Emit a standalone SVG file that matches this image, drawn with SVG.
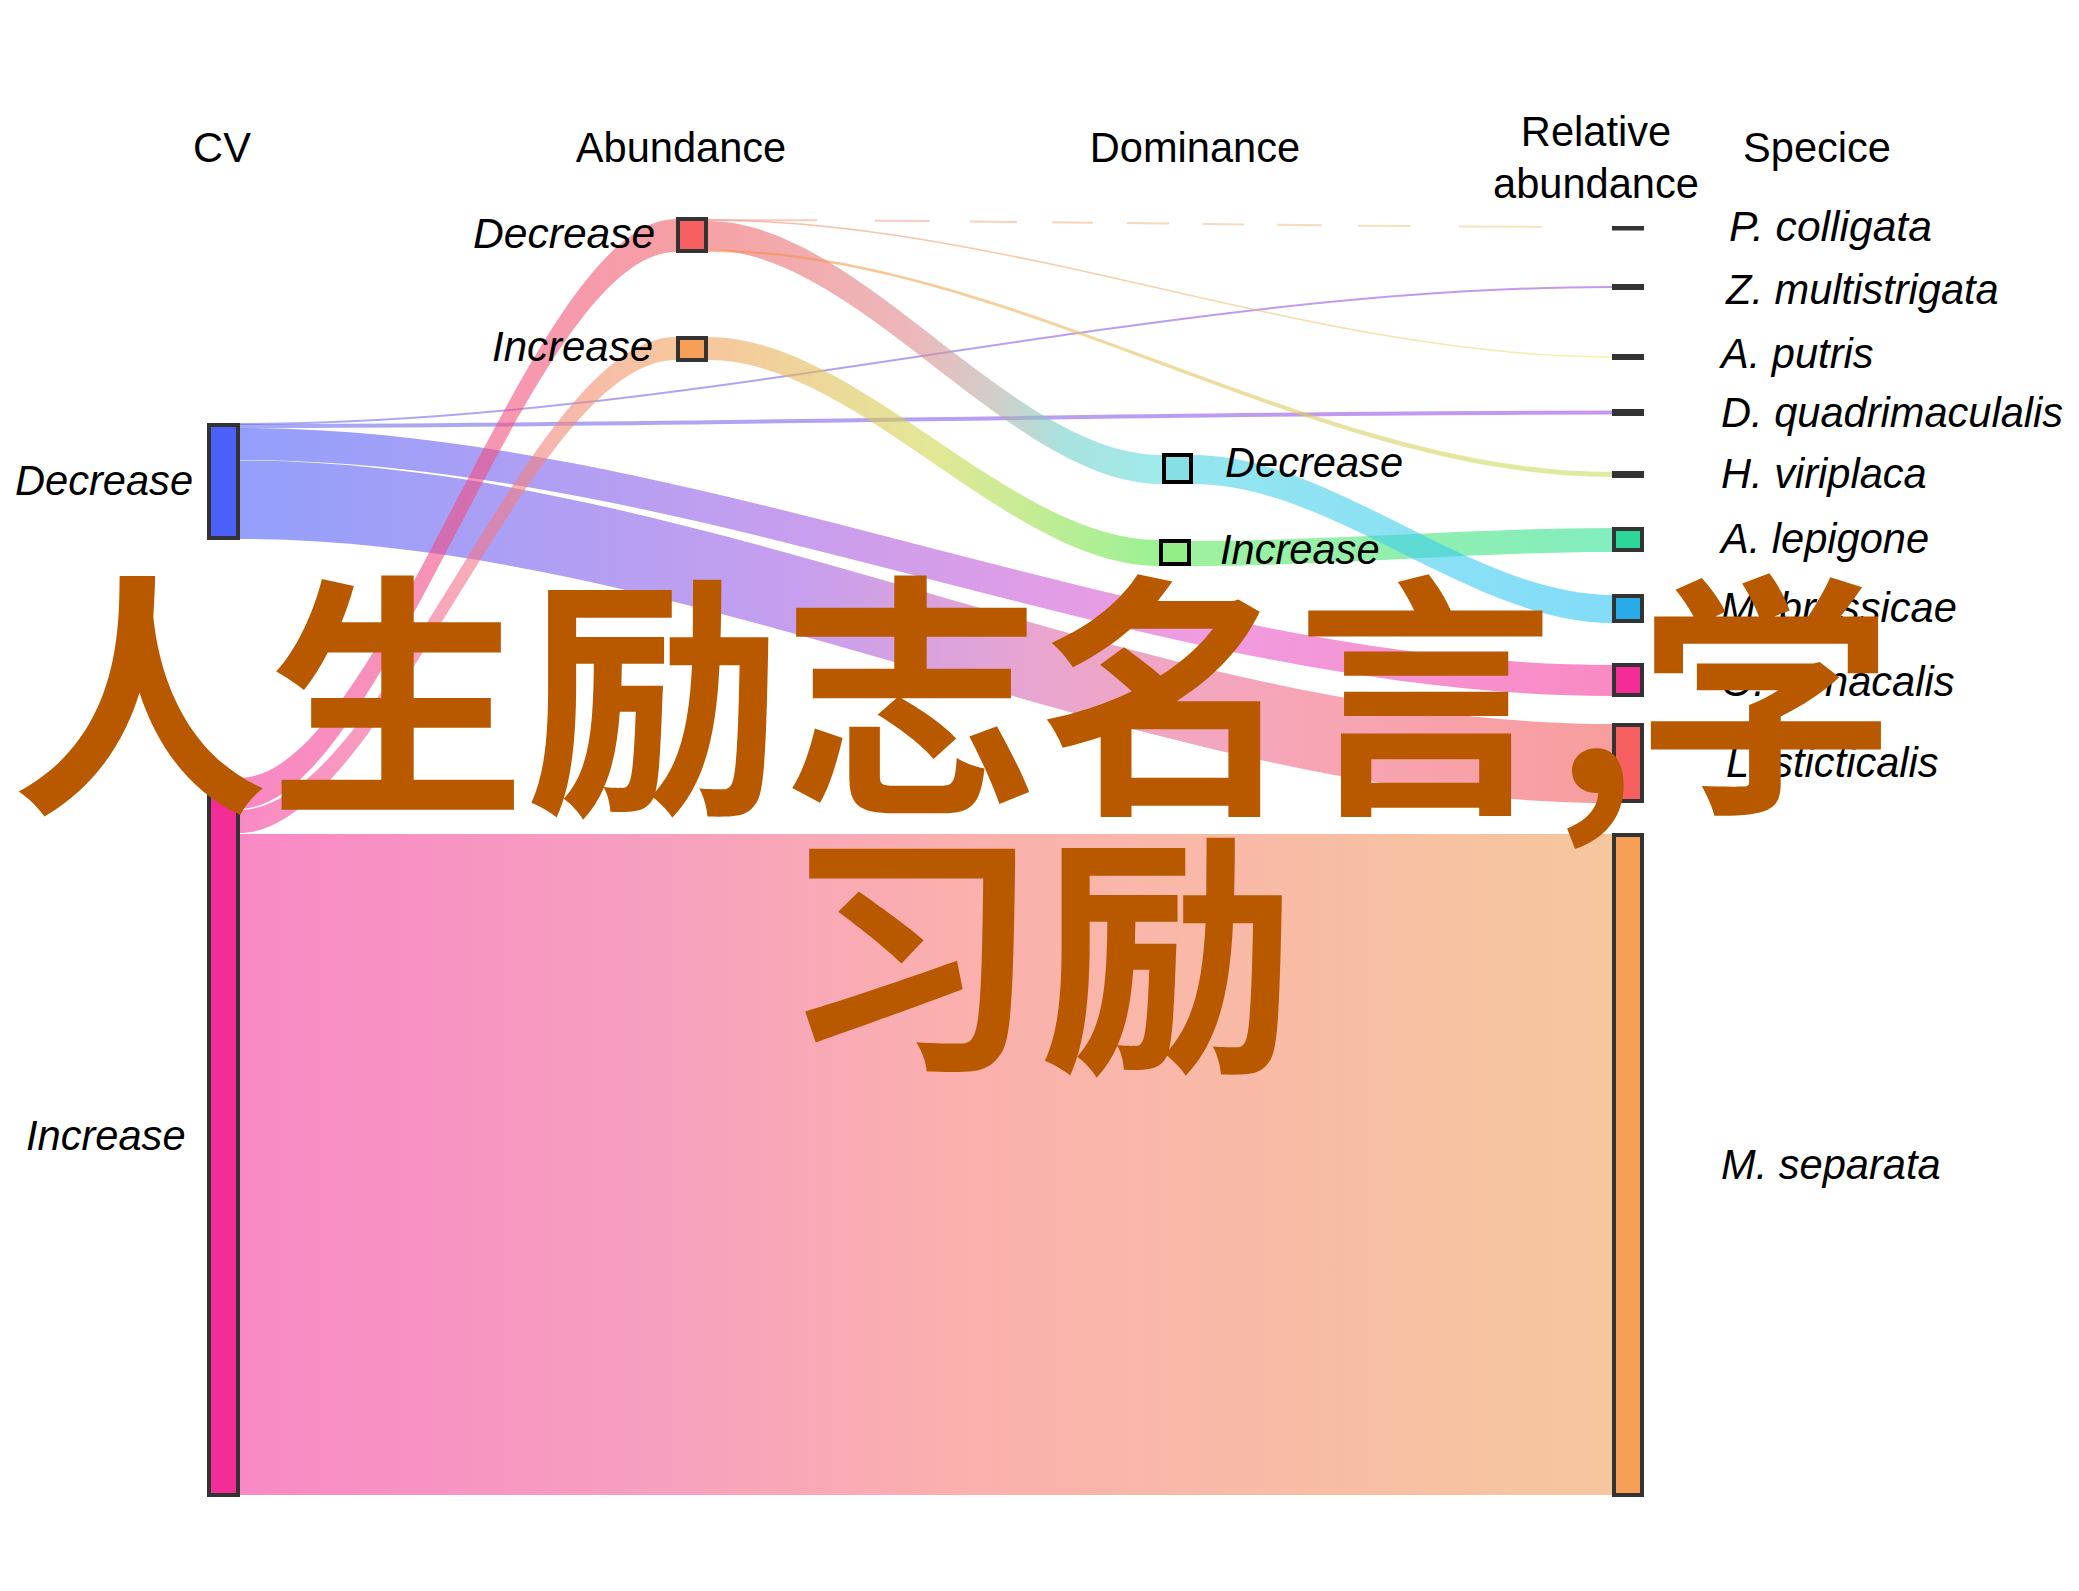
<svg xmlns="http://www.w3.org/2000/svg" width="2079" height="1591" viewBox="0 0 2079 1591">
<style>
text{font-family:"Liberation Sans",Arial,sans-serif;font-size:41.6px;fill:#000}
.i{font-style:italic}
.m{text-anchor:middle}
.f{fill-opacity:.6;stroke:none}
.l{fill:none;stroke-opacity:.6}
.n{stroke:#333;stroke-width:4}
.k{stroke:#000;stroke-width:4}
.w{font-family:"Noto Sans CJK SC","Noto Sans CJK JP",sans-serif;font-size:257px;font-weight:700;fill:#B85900}
</style>
<defs>
<linearGradient id="gA" gradientUnits="userSpaceOnUse" x1="239" y1="0" x2="1612" y2="0"><stop offset="0" stop-color="#4A60F8"/><stop offset=".41" stop-color="#A25EE2"/><stop offset=".7" stop-color="#E65ACC"/><stop offset="1" stop-color="#F63C9A"/></linearGradient>
<linearGradient id="gB" gradientUnits="userSpaceOnUse" x1="239" y1="0" x2="1612" y2="0"><stop offset="0" stop-color="#4A60F8"/><stop offset=".41" stop-color="#A25EE2"/><stop offset=".59" stop-color="#DC6AAE"/><stop offset=".77" stop-color="#F26A86"/><stop offset="1" stop-color="#F25C5C"/></linearGradient>
<linearGradient id="gS" gradientUnits="userSpaceOnUse" x1="239" y1="0" x2="1612" y2="0"><stop offset="0" stop-color="#F43A9E"/><stop offset=".31" stop-color="#F16194"/><stop offset=".52" stop-color="#F87B78"/><stop offset="1" stop-color="#EFA25C"/></linearGradient>
<linearGradient id="g1" gradientUnits="userSpaceOnUse" x1="239" y1="0" x2="676" y2="0"><stop offset="0" stop-color="#F43A9E"/><stop offset="1" stop-color="#F06068"/></linearGradient>
<linearGradient id="g2" gradientUnits="userSpaceOnUse" x1="239" y1="0" x2="676" y2="0"><stop offset="0" stop-color="#F43A9E"/><stop offset=".5" stop-color="#F4708C"/><stop offset="1" stop-color="#F0A25C"/></linearGradient>
<linearGradient id="g3" gradientUnits="userSpaceOnUse" x1="708" y1="0" x2="1162" y2="0"><stop offset="0" stop-color="#F06468"/><stop offset=".45" stop-color="#E0888C"/><stop offset=".64" stop-color="#B0B0A8"/><stop offset=".78" stop-color="#70CFC8"/><stop offset="1" stop-color="#60DDE0"/></linearGradient>
<linearGradient id="g4" gradientUnits="userSpaceOnUse" x1="708" y1="0" x2="1159" y2="0"><stop offset="0" stop-color="#F0A25C"/><stop offset=".5" stop-color="#D0D850"/><stop offset="1" stop-color="#58E84C"/></linearGradient>
<linearGradient id="g5" gradientUnits="userSpaceOnUse" x1="1191" y1="0" x2="1612" y2="0"><stop offset="0" stop-color="#5EE85E"/><stop offset="1" stop-color="#2FE193"/></linearGradient>
<linearGradient id="g6" gradientUnits="userSpaceOnUse" x1="1193" y1="0" x2="1612" y2="0"><stop offset="0" stop-color="#4CD4E4"/><stop offset="1" stop-color="#30C4F4"/></linearGradient>
<linearGradient id="g7" gradientUnits="userSpaceOnUse" x1="239" y1="0" x2="1612" y2="0"><stop offset="0" stop-color="#6C70F0"/><stop offset="1" stop-color="#A050E0"/></linearGradient>
<linearGradient id="g8" gradientUnits="userSpaceOnUse" x1="708" y1="0" x2="1612" y2="0"><stop offset="0" stop-color="#F48A50"/><stop offset=".45" stop-color="#E8C060"/><stop offset="1" stop-color="#C8E060"/></linearGradient>
<linearGradient id="g9" gradientUnits="userSpaceOnUse" x1="708" y1="0" x2="1612" y2="0"><stop offset="0" stop-color="#F08A70"/><stop offset=".45" stop-color="#F0B070"/><stop offset="1" stop-color="#F0E870"/></linearGradient>
<linearGradient id="g10" gradientUnits="userSpaceOnUse" x1="708" y1="0" x2="1612" y2="0"><stop offset="0" stop-color="#F5A090"/><stop offset="1" stop-color="#F0D890"/></linearGradient>
</defs>
<rect width="2079" height="1591" fill="#fff"/>
<g id="connectors">
<rect class="f" fill="url(#gS)" x="239" y="834" width="1373" height="661"/>
<path class="f" fill="url(#gA)" d="M239 428C696.7 428 1154.3 665 1612 665L1612 696C1154.3 696 696.7 460 239 460Z"/>
<path class="f" fill="url(#gB)" d="M239 460.5C696.7 460.5 1154.3 724 1612 724L1612 803C1154.3 803 696.7 539 239 539Z"/>
<path class="l" stroke="url(#g7)" stroke-width="2" d="M239 424C696.7 424 1154.3 287 1612 287"/>
<path class="l" stroke="url(#g7)" stroke-width="4" d="M239 426C696.7 426 1154.3 412.5 1612 412.5"/>
<path class="f" fill="url(#g1)" d="M239 778C384.7 778 530.3 219 676 219L676 252C530.3 252 384.7 809 239 809Z"/>
<path class="f" fill="url(#g2)" d="M239 810C384.7 810 530.3 337 676 337L676 360C530.3 360 384.7 833 239 833Z"/>
<path class="f" fill="url(#g3)" d="M708 221C859.3 221 1010.7 455 1162 455L1162 484C1010.7 484 859.3 250 708 250Z"/>
<path class="f" fill="url(#g4)" d="M708 337C858.3 337 1008.7 540 1159 540L1159 566C1008.7 566 858.3 360 708 360Z"/>
<path class="f" fill="url(#g5)" d="M1191 541C1331.3 541 1471.7 528 1612 528L1612 552C1471.7 552 1331.3 566 1191 566Z"/>
<path class="f" fill="url(#g6)" d="M1193 455C1332.7 455 1472.3 595 1612 595L1612 623C1472.3 623 1332.7 484 1193 484Z"/>
<path class="f" fill="url(#g8)" d="M708 249.5C1009.3 249.5 1310.7 472 1612 472L1612 477C1310.7 477 1009.3 252 708 252Z"/>
<path class="l" stroke="url(#g9)" stroke-width="1.5" d="M708 220C1009.3 220 1310.7 357 1612 357"/>
<path class="l" stroke="url(#g10)" stroke-width="2" stroke-dasharray="109 58 55 40 47 35 41 34 42 34 41 33 45 36 53 48 83 70" d="M708 220C1009.3 220 1310.7 227 1612 227"/>
</g>
<g id="axes">
<text class="m" x="222" y="162">CV</text>
<text class="m" x="681" y="162">Abundance</text>
<text class="m" x="1195" y="162">Dominance</text>
<text class="m" x="1596" y="146">Relative</text>
<text class="m" x="1596" y="198">abundance</text>
<text class="m" x="1817" y="162">Specice</text>
</g>
<g id="cv-decrease"><rect class="n" x="209" y="425" width="29" height="113" fill="#4A60F8"/><text class="i" x="15" y="495">Decrease</text></g>
<g id="cv-increase"><rect class="n" x="209" y="780" width="29" height="715" fill="#F42D96"/><text class="i" x="26" y="1150">Increase</text></g>
<g id="abundance-decrease"><rect class="n" x="678" y="219" width="28" height="32" fill="#F76060"/><text class="i" x="473" y="248" style="font-size:42.6px">Decrease</text></g>
<g id="abundance-increase"><rect class="n" x="678" y="338" width="28" height="22" fill="#F5A056"/><text class="i" x="492" y="361" style="font-size:42px">Increase</text></g>
<g id="dominance-decrease"><rect class="k" x="1164" y="455" width="27" height="27" fill="#86DFE3"/><text class="i" x="1225" y="477">Decrease</text></g>
<g id="dominance-increase"><rect class="k" x="1161" y="541" width="28" height="23" fill="#94EE88"/><text class="i" x="1220" y="564">Increase</text></g>
<g id="p-colligata"><rect class="n" x="1614" y="228" width="28" height="0.5" fill="#333"/><text class="i" x="1729" y="241" style="font-size:42.6px">P. colligata</text></g>
<g id="z-multistrigata"><rect class="n" x="1614" y="286" width="28" height="2" fill="#201040"/><text class="i" x="1726" y="304">Z. multistrigata</text></g>
<g id="a-putris"><rect class="n" x="1614" y="356" width="28" height="2" fill="#332"/><text class="i" x="1721" y="368">A. putris</text></g>
<g id="d-quadrimaculalis"><rect class="n" x="1614" y="411" width="28" height="3" fill="#201040"/><text class="i" x="1721" y="427">D. quadrimaculalis</text></g>
<g id="h-viriplaca"><rect class="n" x="1614" y="473" width="28" height="3" fill="#2A3318"/><text class="i" x="1721" y="488">H. viriplaca</text></g>
<g id="a-lepigone"><rect class="n" x="1614" y="529" width="28" height="21" fill="#2DD699"/><text class="i" x="1721" y="553">A. lepigone</text></g>
<g id="m-brassicae"><rect class="n" x="1614" y="596" width="28" height="25" fill="#29ABE8"/><text class="i" x="1721" y="622">M. brassicae</text></g>
<g id="o-furnacalis"><rect class="n" x="1614" y="665" width="28" height="30" fill="#F42D96"/><text class="i" x="1721" y="696">O. furnacalis</text></g>
<g id="l-sticticalis"><rect class="n" x="1614" y="725" width="28" height="76" fill="#F76060"/><text class="i" x="1726" y="777">L. sticticalis</text></g>
<g id="m-separata"><rect class="n" x="1614" y="835" width="28" height="660" fill="#F5A056"/><text class="i" x="1721" y="1179">M. separata</text></g>
<g id="watermark">
<text class="w" x="11.5" y="794">人生励志名言,学</text>
<text class="w" x="782" y="1052">习励</text>
</g>
</svg>
